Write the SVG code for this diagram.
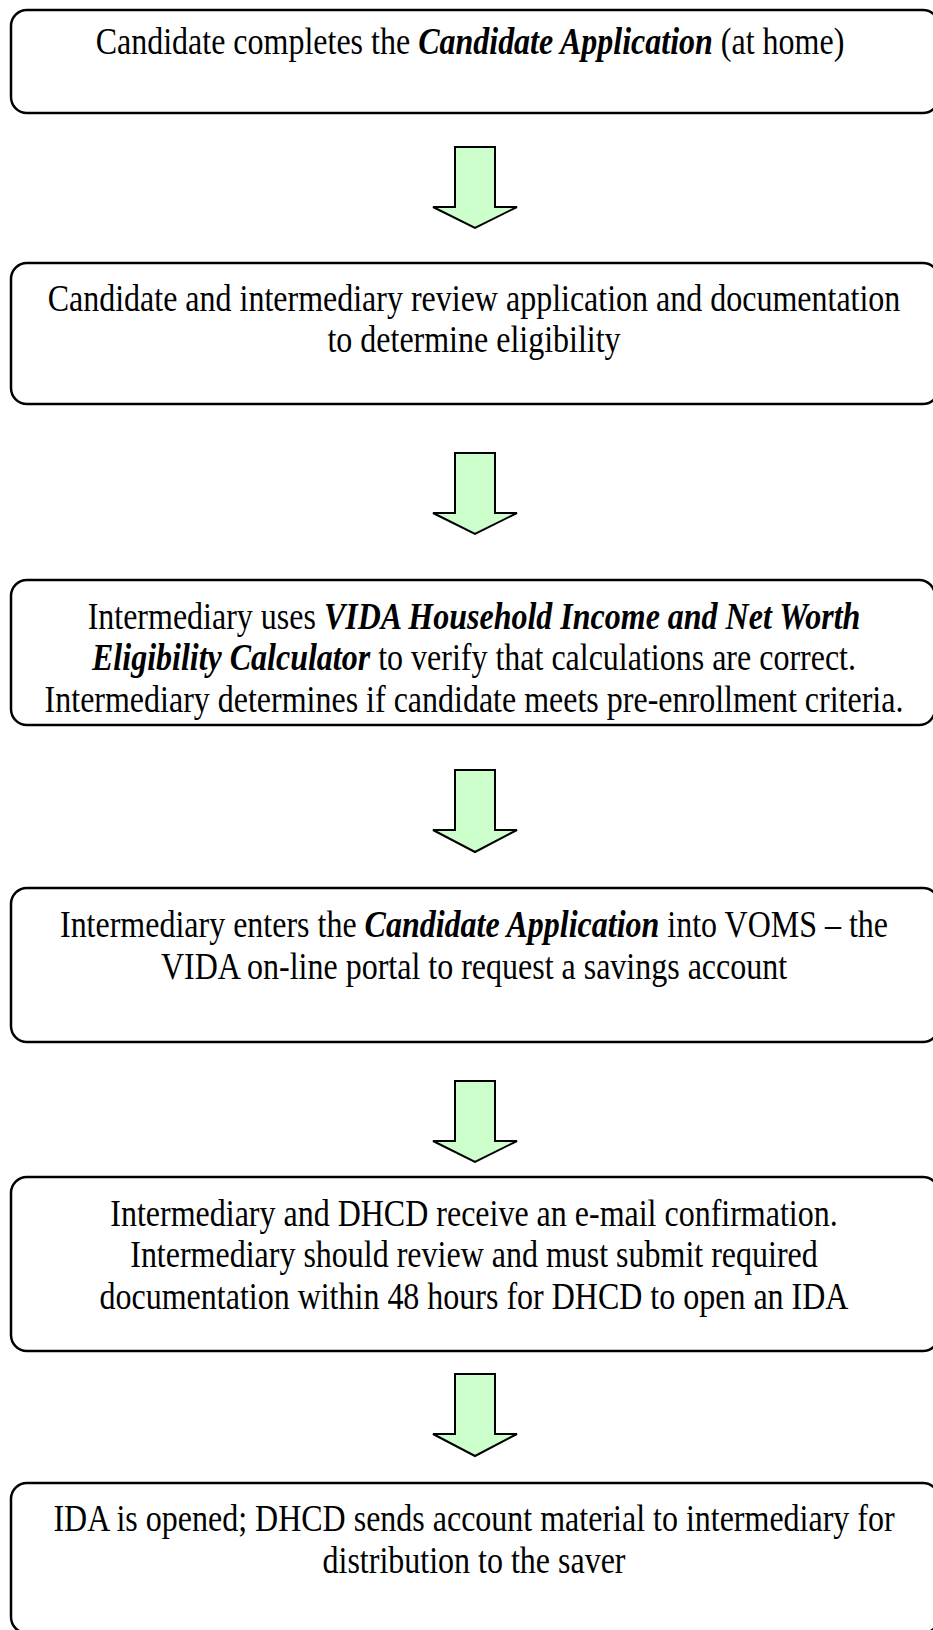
<svg xmlns="http://www.w3.org/2000/svg" width="933" height="1630" viewBox="0 0 933 1630">
<style>
.box{fill:#ffffff;stroke:#000000;stroke-width:2.5}
.arr{fill:#ccffcc;stroke:#000000;stroke-width:2;stroke-linejoin:miter}
.t{font-family:"Liberation Serif","Times New Roman",serif;font-size:32px;fill:#000;text-anchor:middle}
.bi{font-weight:bold;font-style:italic}
</style>
<rect width="933" height="1630" fill="#ffffff"/>
<g id="connectors">
<path class="arr" d="M455,147 H495 V207 H517 L475,228 L433,207 H455 Z"/>
<path class="arr" d="M455,453 H495 V513 H517 L475,534 L433,513 H455 Z"/>
<path class="arr" d="M455,770 H495 V830 H517 L475,852 L433,830 H455 Z"/>
<path class="arr" d="M455,1081 H495 V1141 H517 L475,1162 L433,1141 H455 Z"/>
<path class="arr" d="M455,1374 H495 V1434 H517 L475,1456 L433,1434 H455 Z"/>
</g>
<g id="n1">
<rect class="box" x="11" y="10" width="928" height="103" rx="16"/>
<text class="t" transform="translate(470,54) scale(1,1.17)">Candidate completes the <tspan class="bi">Candidate Application</tspan> (at home)</text>
</g>
<g id="n2">
<rect class="box" x="11" y="263" width="928" height="141" rx="16"/>
<text class="t" transform="translate(474,311) scale(1,1.17)">Candidate and intermediary review application and documentation</text>
<text class="t" transform="translate(474,352) scale(1,1.17)">to determine eligibility</text>
</g>
<g id="n3">
<rect class="box" x="11" y="580" width="924" height="145" rx="16"/>
<text class="t" transform="translate(474,629) scale(1,1.17)">Intermediary uses <tspan class="bi">VIDA Household Income and Net Worth</tspan></text>
<text class="t" transform="translate(474,670) scale(1,1.17)"><tspan class="bi">Eligibility Calculator</tspan> to verify that calculations are correct.</text>
<text class="t" transform="translate(474,712) scale(1,1.17)">Intermediary determines if candidate meets pre-enrollment criteria.</text>
</g>
<g id="n4">
<rect class="box" x="11" y="888" width="928" height="154" rx="16"/>
<text class="t" transform="translate(474,937) scale(1,1.17)">Intermediary enters the <tspan class="bi">Candidate Application</tspan> into VOMS – the</text>
<text class="t" transform="translate(474,979) scale(1,1.17)">VIDA on-line portal to request a savings account</text>
</g>
<g id="n5">
<rect class="box" x="11" y="1177" width="928" height="174" rx="16"/>
<text class="t" transform="translate(474,1226) scale(1,1.17)">Intermediary and DHCD receive an e-mail confirmation.</text>
<text class="t" transform="translate(474,1267) scale(1,1.17)">Intermediary should review and must submit required</text>
<text class="t" transform="translate(474,1309) scale(1,1.17)">documentation within 48 hours for DHCD to open an IDA</text>
</g>
<g id="n6">
<rect class="box" x="11" y="1483" width="928" height="150" rx="16"/>
<text class="t" transform="translate(474,1531) scale(1,1.17)">IDA is opened; DHCD sends account material to intermediary for</text>
<text class="t" transform="translate(474,1573) scale(1,1.17)">distribution to the saver</text>
</g>
</svg>
